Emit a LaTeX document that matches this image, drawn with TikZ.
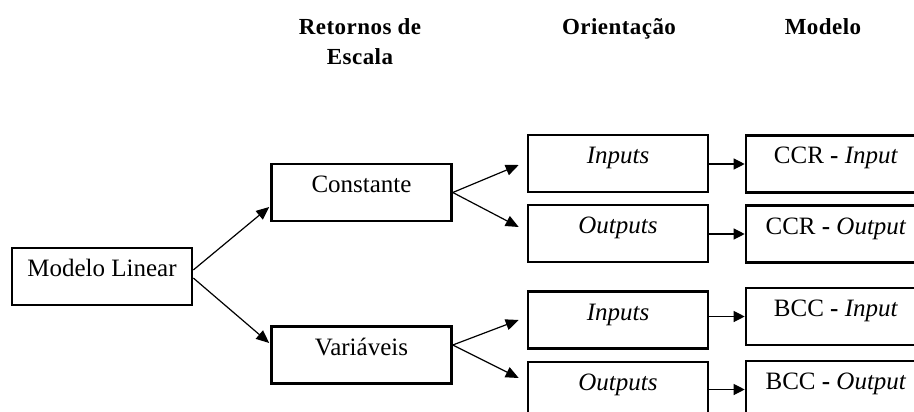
\documentclass[tikz,border=0pt]{standalone}
\usepackage{fontspec}
\setmainfont{Liberation Serif}
\usetikzlibrary{arrows.meta}
\tikzset{
  boxnode/.style={draw=black, line width=2.6pt, minimum width=180pt, inner xsep=0pt, inner ysep=0pt,
    text height=28.5pt, text depth=28.5pt, font=\fontsize{25}{29}\selectfont},
  hdr/.style={anchor=base, font=\fontsize{23}{27}\selectfont\bfseries\addfontfeature{LetterSpace=2}},
  conn/.style={line width=1.2pt, -{Triangle[length=13pt,width=11pt]}},
  connh/.style={line width=1.2pt, -{Triangle[length=11pt,width=11pt]}}
}
\begin{document}
\begin{tikzpicture}[x=1pt,y=-1pt]
\useasboundingbox (0,0) rectangle (914,412);
\clip (0,0) rectangle (914,412);
% headers
\node[hdr] (h1) at (360,35) {Retornos de};
\node[hdr] (h1b) at (360,65) {Escala};
\node[hdr] (h2) at (619,35) {Orientação};
\node[hdr] (h3) at (823,35) {Modelo};
% boxes
\node[boxnode] (ml) at (102,276.5) {Modelo Linear};
\node[boxnode] (c) at (361.5,192.5) {Constante};
\node[boxnode] (v) at (361.5,355) {Variáveis};
\node[boxnode] (in1) at (618,163.5) {\itshape Inputs};
\node[boxnode] (out1) at (618,233.5) {\itshape Outputs};
\node[boxnode] (in2) at (618,320) {\itshape Inputs};
\node[boxnode] (out2) at (618,390.5) {\itshape Outputs};
\node[boxnode] (m1) at (836,164) {CCR \textbf{-} \textit{Input}};
\node[boxnode] (m2) at (836,234) {CCR \textbf{-} \textit{Output}};
\node[boxnode] (m3) at (836,316.5) {BCC \textbf{-} \textit{Input}};
\node[boxnode] (m4) at (836,389.5) {BCC \textbf{-} \textit{Output}};
% connectors
\draw[conn] ([yshift=6.5pt]ml.east) -- ([xshift=-1pt,yshift=-14.5pt]c.west);
\draw[conn] ([yshift=-1.5pt]ml.east) -- ([xshift=-1pt,yshift=12pt]v.west);
\draw[conn] (c.east) -- ([xshift=-8pt,yshift=-1.5pt]in1.west);
\draw[conn] (c.east) -- ([xshift=-8pt,yshift=6.5pt]out1.west);
\draw[conn] ([yshift=10pt]v.east) -- ([xshift=-8pt]in2.west);
\draw[conn] ([yshift=10pt]v.east) -- ([xshift=-8pt,yshift=12.5pt]out2.west);
\draw[connh] (m1.west -| in1.east) -- (m1.west);
\draw[connh] (m2.west -| out1.east) -- (m2.west);
\draw[connh] (m3.west -| in2.east) -- (m3.west);
\draw[connh] (m4.west -| out2.east) -- (m4.west);
\end{tikzpicture}
\end{document}
